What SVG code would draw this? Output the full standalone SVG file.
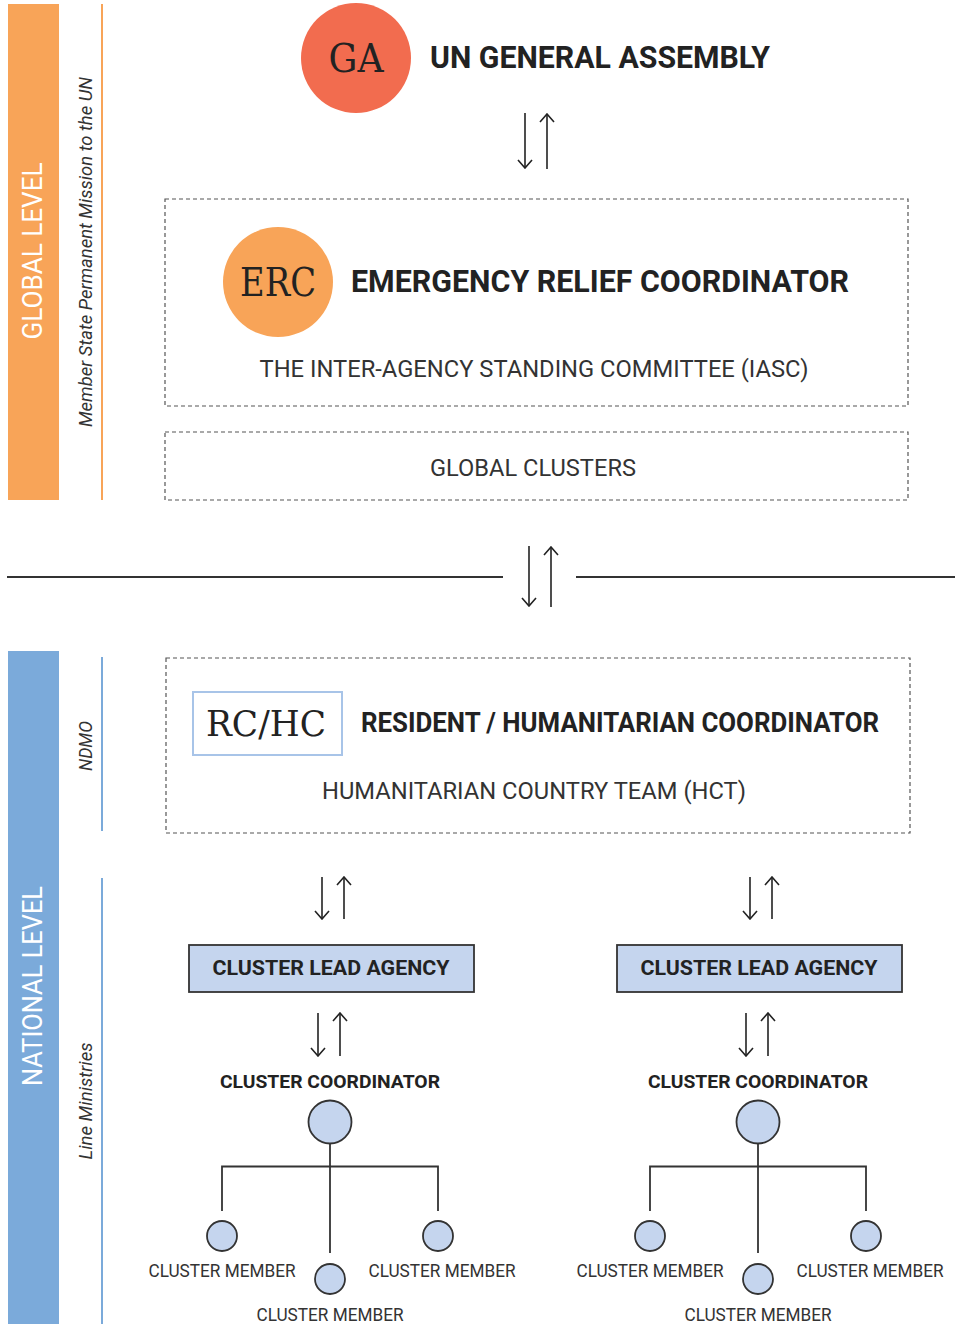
<svg xmlns="http://www.w3.org/2000/svg" width="955" height="1324" viewBox="0 0 955 1324">
<style>
.sans{font-family:Roboto,"Liberation Sans",sans-serif}
.slab{font-family:"DejaVu Serif","Liberation Serif",serif}
.hdr{font-family:Roboto,"Liberation Sans",sans-serif;font-weight:bold;fill:#222}
.sub{font-family:Roboto,"Liberation Sans",sans-serif;fill:#333}
.side{font-family:Roboto,"Liberation Sans",sans-serif;font-style:italic;fill:#333}
.dash{fill:none;stroke:#555;stroke-width:1.2;stroke-dasharray:4 3}
.arr{stroke:#222;stroke-width:1.6;fill:none;marker-end:url(#ah)}
.ln{stroke:#333;stroke-width:2;fill:none}
.dot{fill:#C5D5EE;stroke:#333;stroke-width:1.8}
.mem{font-family:Roboto,"Liberation Sans",sans-serif;font-size:18px;fill:#333;text-anchor:middle}
</style>
<defs>
<marker id="ah" viewBox="-1 -8 10 16" refX="8" refY="0" markerWidth="10" markerHeight="16" orient="auto" markerUnits="userSpaceOnUse">
<path d="M0,-7 L8,0 L0,7" fill="none" stroke="#222" stroke-width="1.6"/>
</marker>
</defs>

<g id="global-level">
<rect x="8" y="4" width="51" height="496" fill="#F8A458"/>
<text class="sans" transform="translate(42,251) rotate(-90)" text-anchor="middle" font-size="27" fill="#fff" textLength="177" lengthAdjust="spacingAndGlyphs">GLOBAL LEVEL</text>
<line x1="102" y1="4" x2="102" y2="500" stroke="#F8A458" stroke-width="2"/>
<text class="side" transform="translate(92,252) rotate(-90)" text-anchor="middle" font-size="18" textLength="350" lengthAdjust="spacingAndGlyphs">Member State Permanent Mission to the UN</text>
</g>

<g id="ga">
<circle cx="356" cy="58" r="55" fill="#F26C4F"/>
<text class="slab" x="356" y="72" text-anchor="middle" font-size="40" fill="#222" textLength="55" lengthAdjust="spacingAndGlyphs">GA</text>
<text class="hdr" x="430" y="68" font-size="32" textLength="340" lengthAdjust="spacingAndGlyphs">UN GENERAL ASSEMBLY</text>
</g>

<g id="erc">
<rect class="dash" x="165" y="199" width="743" height="207"/>
<circle cx="278" cy="282" r="55" fill="#F8A458"/>
<text class="slab" x="278" y="296" text-anchor="middle" font-size="40" fill="#222" textLength="76" lengthAdjust="spacingAndGlyphs">ERC</text>
<text class="hdr" x="351" y="292" font-size="32" textLength="498" lengthAdjust="spacingAndGlyphs">EMERGENCY RELIEF COORDINATOR</text>
<text class="sub" x="534" y="377" text-anchor="middle" font-size="24" textLength="549" lengthAdjust="spacingAndGlyphs">THE INTER-AGENCY STANDING COMMITTEE (IASC)</text>
</g>

<g id="global-clusters">
<rect class="dash" x="165" y="432" width="743" height="68"/>
<text class="sub" x="533" y="476" text-anchor="middle" font-size="23" textLength="206" lengthAdjust="spacingAndGlyphs">GLOBAL CLUSTERS</text>
</g>

<g id="national-level">
<rect x="8" y="651" width="51" height="673" fill="#7BAADA"/>
<text class="sans" transform="translate(42,986) rotate(-90)" text-anchor="middle" font-size="27" fill="#fff" textLength="200" lengthAdjust="spacingAndGlyphs">NATIONAL LEVEL</text>
<line x1="102" y1="657" x2="102" y2="831" stroke="#7BAADA" stroke-width="2"/>
<text class="side" transform="translate(92,746) rotate(-90)" text-anchor="middle" font-size="18" textLength="50" lengthAdjust="spacingAndGlyphs">NDMO</text>
<line x1="102" y1="878" x2="102" y2="1324" stroke="#7BAADA" stroke-width="2"/>
<text class="side" transform="translate(92,1101) rotate(-90)" text-anchor="middle" font-size="18" textLength="117" lengthAdjust="spacingAndGlyphs">Line Ministries</text>
</g>

<g id="rchc">
<rect class="dash" x="166" y="658" width="744" height="175"/>
<rect x="193" y="692" width="149" height="63" fill="#fff" stroke="#A8C4E8" stroke-width="2"/>
<text class="slab" x="266" y="736" text-anchor="middle" font-size="36" fill="#222" textLength="120" lengthAdjust="spacingAndGlyphs">RC/HC</text>
<text class="hdr" x="361" y="732" font-size="27" textLength="518" lengthAdjust="spacingAndGlyphs">RESIDENT / HUMANITARIAN COORDINATOR</text>
<text class="sub" x="534" y="799" text-anchor="middle" font-size="23" textLength="424" lengthAdjust="spacingAndGlyphs">HUMANITARIAN COUNTRY TEAM (HCT)</text>
</g>

<g id="cla-left">
<rect x="189" y="945" width="285" height="47" fill="#C5D5EE" stroke="#333" stroke-width="1.8"/>
<text class="hdr" x="331" y="975" text-anchor="middle" font-size="21" textLength="237" lengthAdjust="spacingAndGlyphs">CLUSTER LEAD AGENCY</text>
</g>
<g id="coord-left">
<text class="hdr" x="330" y="1088" text-anchor="middle" font-size="19" textLength="220" lengthAdjust="spacingAndGlyphs">CLUSTER COORDINATOR</text>
<circle class="dot" cx="330" cy="1122" r="21.5"/>
</g>
<g id="member-left-1"><circle class="dot" cx="222" cy="1236" r="15"/><text class="mem" x="222" y="1277" textLength="147" lengthAdjust="spacingAndGlyphs">CLUSTER MEMBER</text></g>
<g id="member-left-2"><circle class="dot" cx="330" cy="1279" r="15"/><text class="mem" x="330" y="1321" textLength="147" lengthAdjust="spacingAndGlyphs">CLUSTER MEMBER</text></g>
<g id="member-left-3"><circle class="dot" cx="438" cy="1236" r="15"/><text class="mem" x="442" y="1277" textLength="147" lengthAdjust="spacingAndGlyphs">CLUSTER MEMBER</text></g>

<g id="cla-right">
<rect x="617" y="945" width="285" height="47" fill="#C5D5EE" stroke="#333" stroke-width="1.8"/>
<text class="hdr" x="759" y="975" text-anchor="middle" font-size="21" textLength="237" lengthAdjust="spacingAndGlyphs">CLUSTER LEAD AGENCY</text>
</g>
<g id="coord-right">
<text class="hdr" x="758" y="1088" text-anchor="middle" font-size="19" textLength="220" lengthAdjust="spacingAndGlyphs">CLUSTER COORDINATOR</text>
<circle class="dot" cx="758" cy="1122" r="21.5"/>
</g>
<g id="member-right-1"><circle class="dot" cx="650" cy="1236" r="15"/><text class="mem" x="650" y="1277" textLength="147" lengthAdjust="spacingAndGlyphs">CLUSTER MEMBER</text></g>
<g id="member-right-2"><circle class="dot" cx="758" cy="1279" r="15"/><text class="mem" x="758" y="1321" textLength="147" lengthAdjust="spacingAndGlyphs">CLUSTER MEMBER</text></g>
<g id="member-right-3"><circle class="dot" cx="866" cy="1236" r="15"/><text class="mem" x="870" y="1277" textLength="147" lengthAdjust="spacingAndGlyphs">CLUSTER MEMBER</text></g>

<g id="connectors">
<line class="arr" x1="525" y1="113" x2="525" y2="168"/>
<line class="arr" x1="547" y1="169" x2="547" y2="114"/>
<line class="ln" x1="7" y1="577" x2="503" y2="577"/>
<line class="ln" x1="576" y1="577" x2="955" y2="577"/>
<line class="arr" x1="529" y1="546" x2="529" y2="606"/>
<line class="arr" x1="551" y1="607" x2="551" y2="547"/>
<line class="arr" x1="322" y1="877" x2="322" y2="919"/>
<line class="arr" x1="344" y1="919" x2="344" y2="877"/>
<line class="arr" x1="318" y1="1013" x2="318" y2="1056"/>
<line class="arr" x1="340" y1="1056" x2="340" y2="1013"/>
<line class="arr" x1="750" y1="877" x2="750" y2="919"/>
<line class="arr" x1="772" y1="919" x2="772" y2="877"/>
<line class="arr" x1="746" y1="1013" x2="746" y2="1056"/>
<line class="arr" x1="768" y1="1056" x2="768" y2="1013"/>
<path class="ln" style="stroke-width:1.8" d="M330,1143.5 V1253 M222,1211 V1166.5 H438 V1211"/>
<path class="ln" style="stroke-width:1.8" d="M758,1143.5 V1253 M650,1211 V1166.5 H866 V1211"/>
</g>
</svg>
